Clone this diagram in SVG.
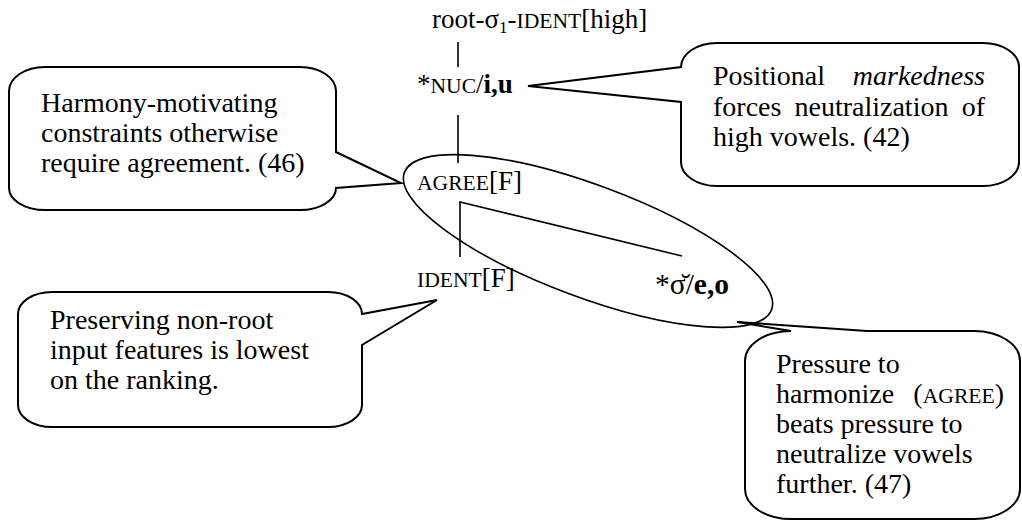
<svg xmlns="http://www.w3.org/2000/svg" width="1022" height="520" viewBox="0 0 1022 520">
<style>
.t{font-family:"Liberation Serif","Times New Roman",serif;font-size:27px;fill:#000}
.c{font-size:28px}
.sc{font-size:21.6px}
.b{font-weight:bold}
.co{fill:#fff;stroke:#000;stroke-width:2;stroke-linejoin:miter}
.ln{stroke:#000;stroke-width:1.6;fill:none}
</style>
<rect width="1022" height="520" fill="#fff"/>
<g id="connectors">
<line class="ln" x1="458" y1="42" x2="458" y2="67"/>
<line class="ln" x1="458" y1="115" x2="458" y2="163"/>
<polyline class="ln" points="460,257 460,202 682,256"/>
</g>
<g id="group-ellipse">
<ellipse class="ln" cx="588" cy="241" rx="196" ry="56" transform="rotate(20.5 588 241)"/>
</g>
<g id="node-root">
<text class="t" x="432" y="28">root-σ<tspan style="font-size:17px" dy="5">1</tspan><tspan dy="-5">-</tspan><tspan class="sc">IDENT</tspan>[high]</text>
</g>
<g id="node-nuc">
<text class="t" x="417" y="93">*<tspan class="sc">NUC</tspan>/<tspan class="b">i,u</tspan></text>
</g>
<g id="node-agree">
<text class="t" x="417" y="190"><tspan class="sc">AGREE</tspan>[F]</text>
</g>
<g id="node-ident">
<text class="t" x="417" y="287"><tspan class="sc">IDENT</tspan>[F]</text>
</g>
<g id="node-sigma">
<text class="t" x="655" y="294" style="font-size:29.5px">*σ̆/<tspan class="b">e,o</tspan></text>
</g>
<g id="callout-harmony">
<path class="co" d="M45,67 H300 A36 24 0 0 1 336,91 V152 L401,183 L336,188 A36 22 0 0 1 300,210 H45 A36 22 0 0 1 9,188 V91 A36 24 0 0 1 45,67 Z"/>
<text class="t c" x="41" y="112">Harmony-motivating</text>
<text class="t c" x="41" y="142">constraints otherwise</text>
<text class="t c" x="41" y="172">require agreement. (46)</text>
</g>
<g id="callout-positional">
<path class="co" d="M717,43 H983 A36 24 0 0 1 1019,67 V162 A36 24 0 0 1 983,186 H717 A36 24 0 0 1 681,162 V102 L528,86 L681,67 A36 24 0 0 1 717,43 Z"/>
<text class="t c" y="85"><tspan x="713">Positional</tspan><tspan x="985" text-anchor="end" font-style="italic">markedness</tspan></text>
<text class="t c" y="116"><tspan x="713">forces</tspan><tspan x="794.5">neutralization</tspan><tspan x="985" text-anchor="end">of</tspan></text>
<text class="t c" x="713" y="146">high vowels. (42)</text>
</g>
<g id="callout-preserving">
<path class="co" d="M52,292 H328 A34 22 0 0 1 362,314 L437,300 L362,345 V405 A34 22 0 0 1 328,427 H52 A34 22 0 0 1 18,405 V314 A34 22 0 0 1 52,292 Z"/>
<text class="t c" x="50" y="329">Preserving non-root</text>
<text class="t c" x="50" y="359">input features is lowest</text>
<text class="t c" x="50" y="389">on the ranking.</text>
</g>
<g id="callout-pressure">
<path class="co" d="M745,361 A46 30 0 0 1 791,331 L737,322 L867,331 H974 A46 30 0 0 1 1020,361 V489 A46 30 0 0 1 974,519 H791 A46 30 0 0 1 745,489 Z"/>
<text class="t c" x="776" y="373">Pressure to</text>
<text class="t c" y="403"><tspan x="776">harmonize</tspan><tspan x="1004" text-anchor="end">(<tspan class="sc">AGREE</tspan>)</tspan></text>
<text class="t c" x="776" y="433">beats pressure to</text>
<text class="t c" x="776" y="463">neutralize vowels</text>
<text class="t c" x="776" y="493">further. (47)</text>
</g>
</svg>
